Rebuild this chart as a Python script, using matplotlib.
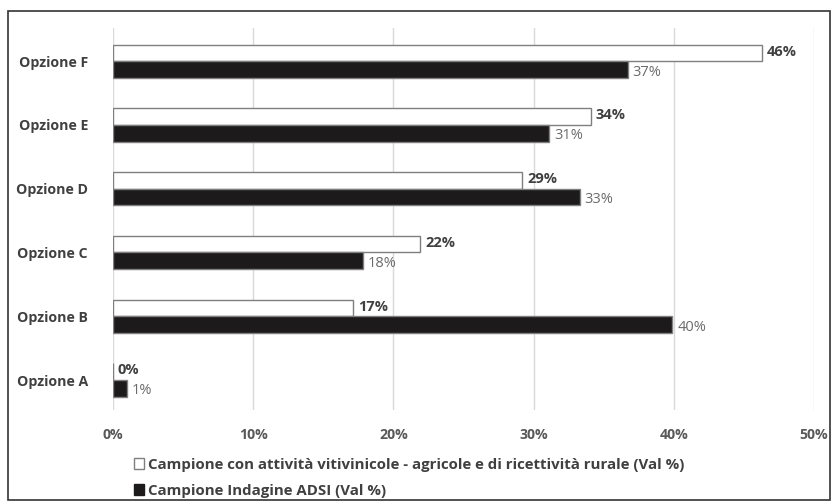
import matplotlib.pyplot as plt
from matplotlib.patches import Patch, Rectangle

# Dati (Val %)
categorie = ["Opzione A", "Opzione B", "Opzione C", "Opzione D", "Opzione E", "Opzione F"]
vitivinicole = [0.0, 17.1, 21.9, 29.2, 34.1, 46.3]
adsi = [1.0, 39.9, 17.8, 33.3, 31.1, 36.7]
etichette_viti = ["0%", "17%", "22%", "29%", "34%", "46%"]
etichette_adsi = ["1%", "40%", "18%", "33%", "31%", "37%"]
tick_x = [0, 10, 20, 30, 40, 50]
legenda = ["Campione con attività vitivinicole - agricole e di ricettività rurale (Val %)",
           "Campione Indagine ADSI (Val %)"]

plt.rcParams['font.family'] = ['Open Sans', 'DejaVu Sans']

fig = plt.figure(figsize=(8.32, 5.04), dpi=100)
fig.patches.append(Rectangle((8 / 832, 4 / 504), 822 / 832, 489 / 504,
                             transform=fig.transFigure, fill=False,
                             edgecolor='#333333', linewidth=1.2))
ax = fig.add_axes([113 / 832, 1 - 410 / 504, (814 - 113) / 832, (410 - 28) / 504])

h = 0.26
y = list(range(len(categorie)))
ax.barh([v + h / 2 for v in y], vitivinicole, height=h, color='white',
        edgecolor='#7f7f7f', linewidth=1, zorder=3)
ax.barh([v - h / 2 for v in y], adsi, height=h, color='#1c1a1b',
        edgecolor='#7f7f7f', linewidth=1, zorder=3)

for i in y:
    ax.text(vitivinicole[i] + 0.35, i + h / 2 + 0.02, etichette_viti[i], va='center',
            ha='left', fontsize=10.5, fontweight='bold', color='#404040')
    ax.text(adsi[i] + 0.35, i - h / 2 - 0.04, etichette_adsi[i], va='center',
            ha='left', fontsize=10.5, color='#6b6b6b')

ax.set_xlim(0, 50)
ax.set_ylim(-0.47, 5.52)
ax.set_xticks(tick_x)
ax.set_xticklabels([f"{t}%" for t in tick_x], fontsize=10.2, fontweight='bold', color='#595959')
ax.set_yticks(y)
ax.set_yticklabels(categorie, fontsize=10.2, fontweight='bold', color='#404040')
ax.tick_params(length=0, pad=13)
ax.tick_params(axis='y', pad=18)
ax.grid(axis='x', color='#d9d9d9', linewidth=1, zorder=0)
for s in ax.spines.values():
    s.set_visible(False)

handles = [Patch(facecolor='white', edgecolor='#7f7f7f'),
           Patch(facecolor='#1c1a1b', edgecolor='#1c1a1b')]
leg = fig.legend(handles, legenda, loc='upper left', bbox_to_anchor=(120 / 832, 1 - 444 / 504),
                 frameon=False, handlelength=0.7, handleheight=0.7, handletextpad=0.3,
                 labelspacing=0.8, prop={'size': 10.8, 'weight': 'bold'})
for t in leg.get_texts():
    t.set_color('#404040')

plt.savefig("out.png", dpi=100)
